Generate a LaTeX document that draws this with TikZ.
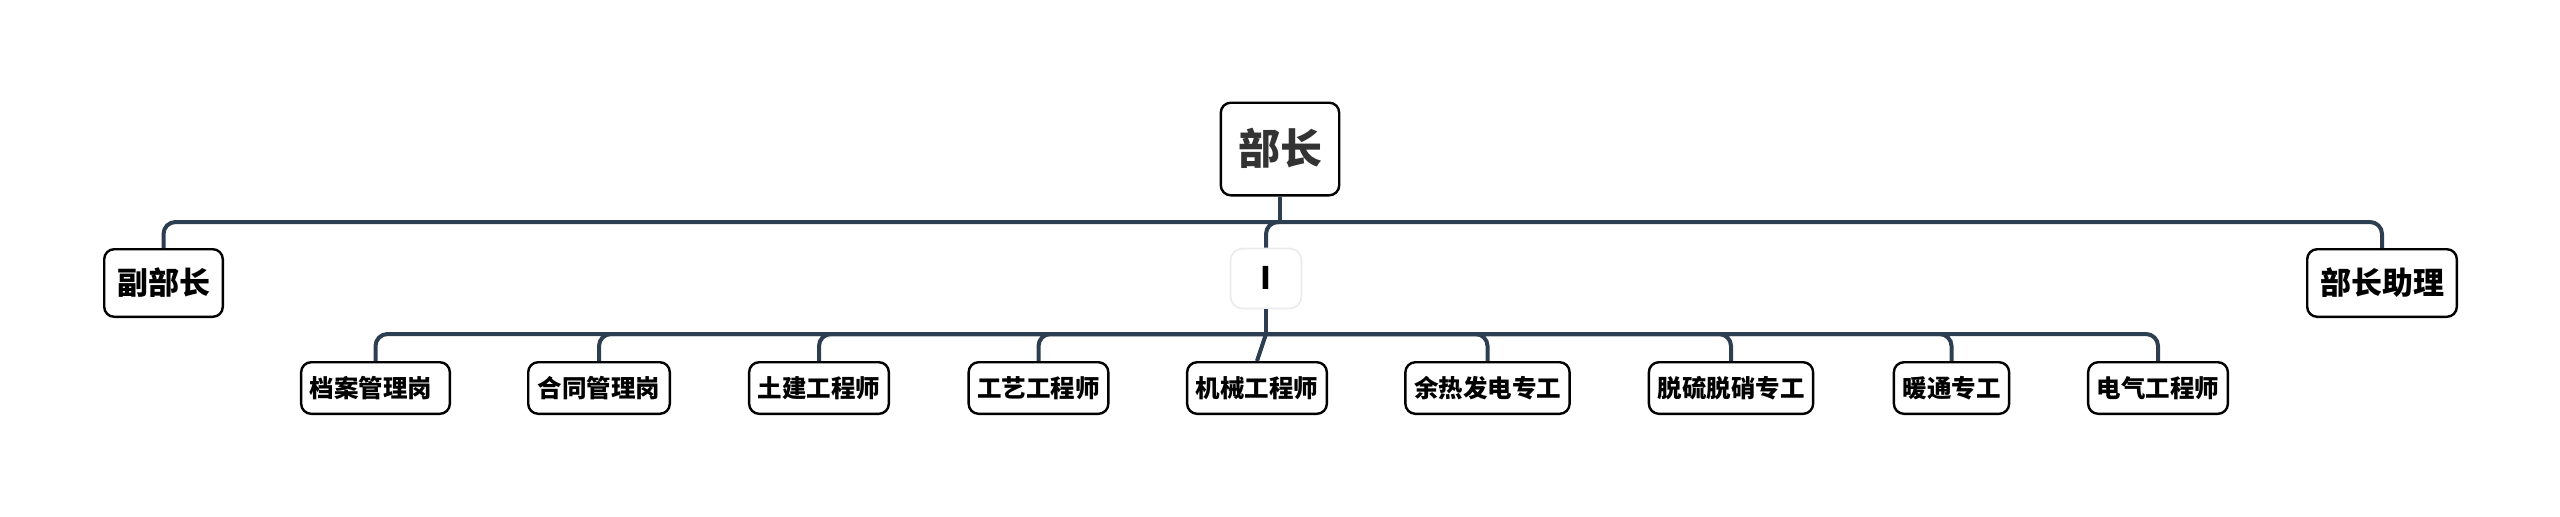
\documentclass[tikz,border=0pt]{standalone}
\usepackage{fontspec}
\newfontfamily\cjk{Noto Sans CJK SC}
\definecolor{linkcol}{RGB}{44,62,80}
\definecolor{rootcol}{RGB}{51,51,51}
\tikzset{
  box/.style={draw=black, line width=1.2pt, rounded corners=5pt, fill=white,
    inner ysep=0pt},
  rootbox/.style={box, font=\cjk\bfseries\fontsize{21pt}{21pt}\selectfont,
    text=rootcol, inner xsep=8.6pt, minimum height=46.3pt,
    text height=16.8pt, text depth=1pt},
  mainbox/.style={box, font=\cjk\bfseries\fontsize{15.5pt}{15.5pt}\selectfont,
    inner xsep=6.4pt, minimum height=33.8pt,
    text height=12.4pt, text depth=0.8pt},
  subbox/.style={box, font=\cjk\bfseries\fontsize{12.25pt}{12.25pt}\selectfont,
    inner xsep=4.3pt, minimum height=25.8pt,
    text height=9.8pt, text depth=0.6pt},
  emptybox/.style={box, draw=black!8, line width=0.8pt, rounded corners=6pt,
    font=\cjk\bfseries\fontsize{15.5pt}{15.5pt}\selectfont,
    minimum width=35.5pt, minimum height=30pt,
    text height=11.3pt, text depth=0pt},
  link/.style={draw=linkcol, line width=2pt, rounded corners=6pt},
}

\begin{document}
\begin{tikzpicture}
\useasboundingbox (0,0) rectangle (1280pt,-258pt);
\node[rootbox] (root) at (640pt, -74.5pt) {部长};
\node[mainbox] (vice) at (81.75pt, -141.5pt) {副部长};
\node[mainbox] (asst) at (1191pt, -141.5pt) {部长助理};
\node[emptybox] (mid) at (633pt, -139.25pt) {I};
\foreach \i/\x/\w/\t in {1/187.75/0/档案管理岗\kern4.5pt, 2/299.5/70.8/合同管理岗,
    3/409.5/0/土建工程师, 4/519.25/0/工艺工程师, 5/628.5/0/机械工程师,
    6/743.75/0/余热发电专工, 7/865.5/0/脱硫脱硝专工, 8/975.75/0/暖通专工,
    9/1079/0/电气工程师}
  \node[subbox, minimum width=\w pt] (sub\i) at (\x pt, -194pt) {\t};

% upper level
\coordinate (bus1) at (0, -111pt);
\coordinate (huba) at (root.south |- bus1);
\draw[link] (root.south) -- (huba);
\draw[link] (huba) -| (vice.north);
\draw[link] (huba) -| (asst.north);
\draw[link] (huba) -| (mid.north);

% lower level
\coordinate (bus2) at (0, -167pt);
\coordinate (hubb) at (mid.south |- bus2);
\draw[link] (mid.south) -- (hubb);
\foreach \i in {1,2,3,4,6,7,8,9}
  \draw[link] (hubb) -| (sub\i.north);
\draw[link] (hubb) -- (sub5.north);
\end{tikzpicture}
\end{document}
